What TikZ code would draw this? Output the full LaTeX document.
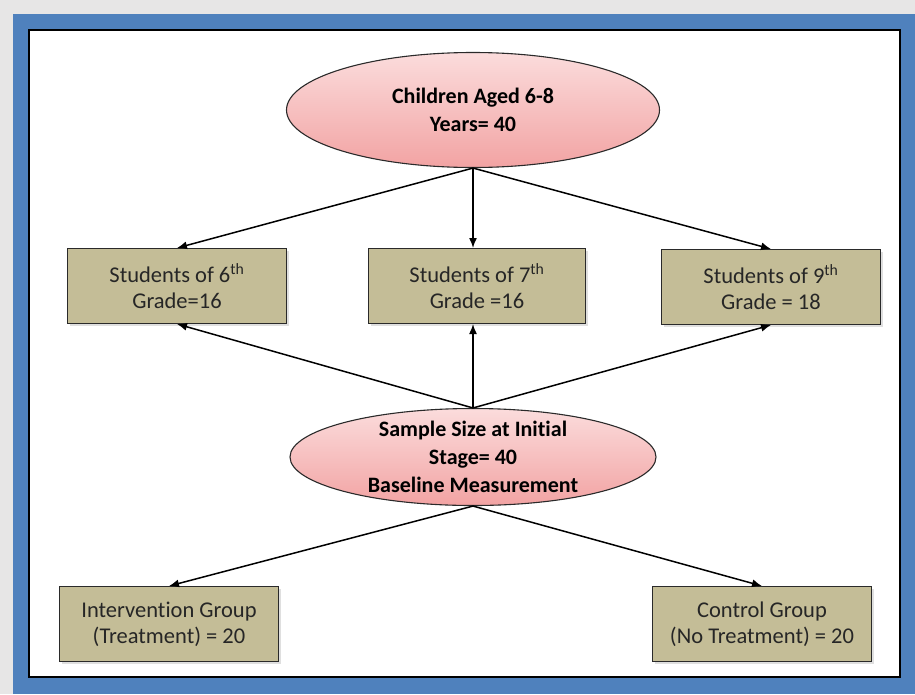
\documentclass[tikz,border=0pt]{standalone}
\usepackage{fontspec}
\setmainfont{Carlito}[Ligatures=NoCommon]
\usetikzlibrary{positioning, shapes.geometric, arrows.meta, calc, shadows}
\definecolor{pgback}{HTML}{E7E6E6}
\definecolor{pgblue}{HTML}{4F81BD}
\definecolor{pgtan}{HTML}{C4BD97}
\definecolor{pgpinktop}{HTML}{FBDCDC}
\definecolor{pgpinkbot}{HTML}{F2A3A3}
\definecolor{pgedge}{HTML}{2A2A2A}

\tikzset{
  grpbox/.style={draw=pgedge, fill=pgtan, line width=1pt, minimum width=219pt,
                 minimum height=75pt, align=center, text=black!85,
                 font=\fontsize{22.5}{26}\selectfont,
                 drop shadow={opacity=0.25, shadow xshift=2pt, shadow yshift=-2pt}},
  oval/.style={ellipse, draw=pgedge, line width=1.1pt, top color=pgpinktop,
               bottom color=pgpinkbot, inner sep=0pt, align=center,
               font=\fontsize{22}{28}\selectfont\bfseries},
  arr/.style={-{Latex[length=10pt,width=8pt]}, line width=1.5pt}
}

\begin{document}
\begin{tikzpicture}[x=1pt, y=-1pt]
        \useasboundingbox (0,0) rectangle (915,694);
        \fill[pgback] (0,0) rectangle (915,694);
        \fill[pgblue] (13,14) rectangle (915,694);
        \draw[fill=white, line width=2pt] (29,30) rectangle (900,677);

        \node[oval, minimum width=373pt, minimum height=115pt] (kids) at (473,110)
              {Children Aged 6-8\\Years= 40};
        \node[grpbox] (g6) at (177,286) {Students of 6\textsuperscript{th}\\Grade=16};
        \node[grpbox, minimum width=217pt] (g7) at (477,286) {Students of 7\textsuperscript{th}\\Grade =16};
        \node[grpbox] (g9) at (771,287) {Students of 9\textsuperscript{th}\\Grade = 18};
        \node[oval, inner ysep=-11pt, minimum width=366pt, minimum height=97pt] (base) at (473,457)
              {Sample Size at Initial\\Stage= 40\\Baseline Measurement};
        \node[grpbox] (treat) at (169,624) {Intervention Group\\(Treatment) = 20};
        \node[grpbox] (ctrl) at (762,624) {Control Group\\(No Treatment) = 20};

        \draw[arr] (kids.south) -- (g6.north);
        \draw[arr] (kids.south) -- (kids.south |- g7.north);
        \draw[arr] (kids.south) -- (g9.north);
        \draw[arr] (base.north) -- (g6.south);
        \draw[arr] (base.north) -- (base.north |- g7.south);
        \draw[arr] (base.north) -- (g9.south);
        \draw[arr] (base.south) -- (treat.north);
        \draw[arr] (base.south) -- (ctrl.north);
      \end{tikzpicture}
\end{document}
